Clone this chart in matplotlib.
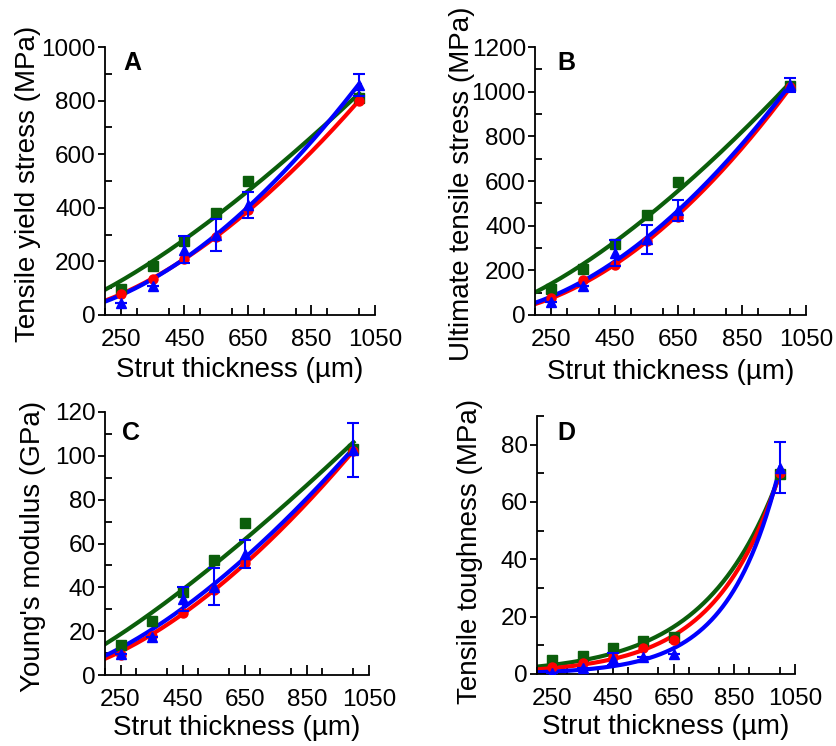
import numpy as np
import matplotlib
matplotlib.use("Agg")
from matplotlib import pyplot as plt
from matplotlib.ticker import MultipleLocator

plt.rcParams['font.family'] = ['Liberation Sans', 'DejaVu Sans']
plt.rcParams['font.size'] = 20

# strut thickness (um)
thick = np.array([250, 350, 450, 550, 650, 1000])

# A - tensile yield stress (MPa)
ys_green = [96, 184, 277, 382, 499, 811]
ys_red = [80, 134, 208, 290, 392, 800]
ys_blue = [46, 108, 243, 298, 410, 858]
ys_blue_err = [0, 0, 50, 60, 48, 40]

# B - ultimate tensile stress (MPa)
uts_green = [115, 206, 318, 448, 597, 1025]
uts_red = [75, 155, 224, 330, 440, 1020]
uts_blue = [60, 130, 278, 340, 468, 1030]
uts_blue_err = [0, 0, 60, 65, 48, 32]

# C - Young's modulus (GPa)
E_green = [13.7, 24.6, 38.0, 52.4, 69.4, 103.0]
E_red = [9.0, 18.0, 28.4, 39.0, 51.2, 102.0]
E_blue = [9.6, 17.5, 34.7, 40.2, 55.2, 102.7]
E_blue_err = [0, 0, 5.5, 8.4, 6.6, 12.3]

# D - tensile toughness (MPa)
T_green = [5.0, 6.4, 9.1, 11.6, 12.9, 69.8]
T_red = [2.5, 4.0, 6.0, 9.0, 12.0, 70.0]
T_blue = [0.3, 2.2, 5.2, 5.9, 7.0, 72.0]
T_blue_err = [0, 0, 2.0, 0, 0, 9.0]

green = '#0b5e0b'
red = '#ff0000'
blue = '#0000ff'

W, H = 836, 746


def fit_curve(x, y, kind, xs):
    # least squares fit of y = a*x^b (power) or y = a*exp(b*x)
    x = np.asarray(x, float)
    y = np.asarray(y, float)
    best = None
    bs = np.linspace(0.3, 3.5, 3201) if kind == 'power' else np.linspace(0.0005, 0.012, 4601)
    for b in bs:
        f = x ** b if kind == 'power' else np.exp(b * x)
        a = np.sum(y * f) / np.sum(f * f)
        err = np.sum((y - a * f) ** 2)
        if best is None or err < best[0]:
            best = (err, a, b)
    _, a, b = best
    return a * xs ** b if kind == 'power' else a * np.exp(b * xs)


def panel(rect, g, r, b, berr, kind, ymax, ymaj, ylabel, letter, lpos, ylab_xy, xlab_y):
    ax = fig.add_axes([rect[0] / W, (H - rect[3]) / H,
                       (rect[2] - rect[0]) / W, (rect[3] - rect[1]) / H])
    xs = np.linspace(200, 1000, 400)
    for ydata, col in ((g, green), (r, red), (b, blue)):
        ax.plot(xs, fit_curve(thick, ydata, kind, xs), color=col, lw=3, zorder=2)
    ax.plot(thick, g, 's', color=green, ms=7, zorder=3)
    ax.plot(thick, r, 'o', color=red, ms=6.5, zorder=3)
    ax.errorbar(thick, b, yerr=berr, fmt='^', color=blue, ms=7, elinewidth=1.5,
                capsize=4, capthick=1.5, zorder=4)
    ax.set_xlim(200, 1050)
    ax.set_ylim(0, ymax)
    ax.set_xticks([250, 450, 650, 850, 1050])
    ax.xaxis.set_minor_locator(MultipleLocator(100))
    ax.yaxis.set_major_locator(MultipleLocator(ymaj))
    ax.yaxis.set_minor_locator(MultipleLocator(ymaj / 2))
    ax.spines['top'].set_visible(False)
    ax.spines['right'].set_visible(False)
    for s in ('left', 'bottom'):
        ax.spines[s].set_linewidth(1.3)
    ax.tick_params(axis='x', which='major', direction='in', length=7, width=1.3,
                   pad=10, labelsize=17.5)
    ax.tick_params(axis='x', which='minor', direction='in', length=5, width=1.3)
    ax.tick_params(axis='y', which='major', direction='out', length=5, width=1.3,
                   pad=1.5, labelsize=17.5)
    ax.tick_params(axis='y', which='minor', direction='in', length=5, width=1.3)
    ax.set_xlabel('Strut thickness (\u00b5m)', va='center')
    ax.set_ylabel(ylabel, va='center')
    # label positions in pixels, converted to axes fractions
    ax.xaxis.set_label_coords(0.5, (rect[3] - xlab_y) / (rect[3] - rect[1]))
    ax.yaxis.set_label_coords((ylab_xy[0] - rect[0]) / (rect[2] - rect[0]),
                              (rect[3] - ylab_xy[1]) / (rect[3] - rect[1]))
    ax.text(lpos[0], lpos[1], letter, transform=ax.transAxes, fontsize=18,
            fontweight='bold', ha='center', va='center')
    return ax


fig = plt.figure(figsize=(W / 100, H / 100), dpi=100)

panel((105, 47, 375, 315), ys_green, ys_red, ys_blue, ys_blue_err, 'power',
      1000, 200, 'Tensile yield stress (MPa)', 'A', (0.10, 0.94), (28, 184), 370)
panel((535, 47, 806, 315), uts_green, uts_red, uts_blue, uts_blue_err, 'power',
      1200, 200, 'Ultimate tensile stress (MPa)', 'B', (0.117, 0.94), (462, 184), 372)
panel((105, 412, 369, 675), E_green, E_red, E_blue, E_blue_err, 'power',
      120, 20, "Young's modulus (GPa)", 'C', (0.10, 0.92), (33, 546), 728)
panel((537, 416, 795, 674), T_green, T_red, T_blue, T_blue_err, 'exp',
      90, 20, 'Tensile toughness (MPa)', 'D', (0.115, 0.935), (470, 551), 727)

fig.savefig('out.png', dpi=100)
